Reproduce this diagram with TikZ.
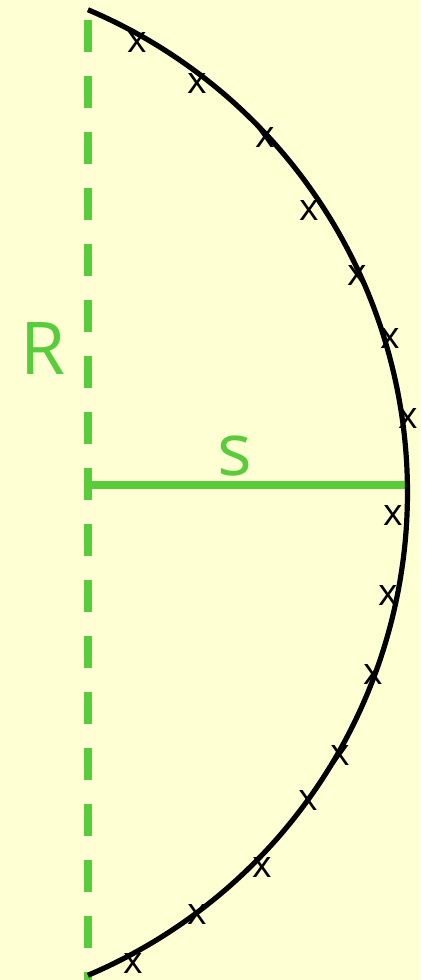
\documentclass[tikz,border=0pt]{standalone}
\usepackage{fontspec}
\setmainfont{Open Sans}
\definecolor{bgyellow}{RGB}{255,255,212}
\definecolor{lgreen}{RGB}{89,204,60}
\begin{document}
\begin{tikzpicture}[x=0.5pt,y=-0.5pt,
  mark x/.style={inner sep=0pt,font=\fontsize{18.7}{20}\selectfont,text=black},
  biglabel/.style={inner sep=0pt,font=\fontsize{36.4}{40}\selectfont,text=lgreen},
  greenline/.style={draw=lgreen,line width=4pt,line cap=butt},
  curveline/.style={draw=black,line width=2.6pt}]
\fill[bgyellow] (0,0) rectangle (420,980);
\useasboundingbox (0,0) rectangle (420,980);
% dashed axis
\coordinate (axtop) at (88,20);
\coordinate (axbot) at (88,980);
\draw[greenline,dash pattern=on 16pt off 12pt] (axtop) -- (axbot);
% radius s
\coordinate (sc) at (88,485);
\coordinate (se) at (407,485);
\draw[greenline] (sc) -- (se);
% arc
\draw[curveline] plot[domain=-67:67,samples=120,smooth] ({-117+524.5*cos(\x)},{492.5+524.5*sin(\x)});
% labels
\node[biglabel] (R) at (43,349) {R};
\node[biglabel] (s) at (235,456.5) {s};
% x marks
\foreach \p [count=\i] in {(137,42),(197,83),(265,137),(309,210),(357,275),(390,338),(408,418),(393,515),(388,595),(373,674),(340,755),(308,800),(262,867),(197,914),(133,963)}
  \node[mark x] (x\i) at \p {x};
\end{tikzpicture}
\end{document}
